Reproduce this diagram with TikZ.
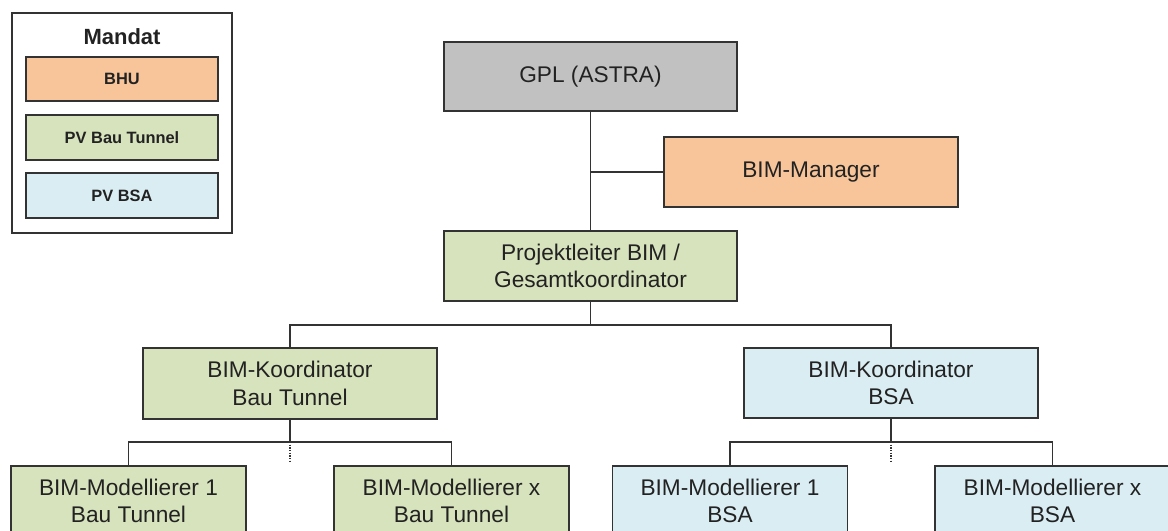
\documentclass[tikz,border=0pt]{standalone}
\usepackage{fontspec}
\setmainfont{Liberation Sans}
\newcommand\pxu{0.75pt}
\definecolor{boxgray}{HTML}{C1C1C1}
\definecolor{boxorange}{HTML}{F8C59A}
\definecolor{boxgreen}{HTML}{D7E3BD}
\definecolor{boxblue}{HTML}{DAEDF3}
\definecolor{edgecol}{HTML}{333333}
\definecolor{textcol}{HTML}{222222}
\tikzset{
  orgbox/.style={draw=edgecol, line width=1.3pt, inner sep=0pt, align=center,
    text=textcol, font=\fontsize{17}{20.5}\selectfont},
  legbox/.style={draw=edgecol, line width=1.1pt, inner sep=0pt, align=center,
    text=textcol, font=\fontsize{12.3}{14}\selectfont\bfseries,
    minimum width=192*\pxu},
  link/.style={draw=edgecol, line width=1pt},
  dotlink/.style={draw=edgecol, line width=1pt, dash pattern=on 1pt off 1pt}
}
\begin{document}
\begin{tikzpicture}[x=0.75pt,y=-0.75pt]
\useasboundingbox (0,0) rectangle (1168,531);
\clip (0,0) rectangle (1168,531);
% legend
\node[draw=edgecol, line width=1.1pt, minimum width=220*\pxu, minimum height=220*\pxu, inner sep=0pt] (legend) at (122,123) {};
\node[text=textcol, font=\fontsize{16.5}{20}\selectfont\bfseries] (mandat) at (122,37) {Mandat};
\node[legbox, fill=boxorange, minimum height=44*\pxu] (lbhu) at (122,79) {BHU};
\node[legbox, fill=boxgreen, minimum height=45*\pxu] (lbau) at (122,137.5) {PV Bau Tunnel};
\node[legbox, fill=boxblue, minimum height=45*\pxu] (lbsa) at (122,195.5) {PV BSA};
% org boxes
\node[orgbox, fill=boxgray, minimum width=293*\pxu, minimum height=69*\pxu] (gpl) at (590.5,76.5) {GPL (ASTRA)};
\node[orgbox, fill=boxorange, minimum width=294*\pxu, minimum height=70*\pxu] (bm) at (811,172) {BIM-Manager};
\node[orgbox, fill=boxgreen, minimum width=293*\pxu, minimum height=70*\pxu] (pl) at (590.5,266) {Projektleiter BIM /\\Gesamtkoordinator};
\node[orgbox, fill=boxgreen, minimum width=294*\pxu, minimum height=71*\pxu] (kbt) at (290,383.5) {BIM-Koordinator\\Bau Tunnel};
\node[orgbox, fill=boxblue, minimum width=294*\pxu, minimum height=70*\pxu] (kbsa) at (891,383) {BIM-Koordinator\\BSA};
\node[orgbox, fill=boxgreen, minimum width=235*\pxu, minimum height=70*\pxu] (m1bt) at (128.5,501) {BIM-Modellierer 1\\Bau Tunnel};
\node[orgbox, fill=boxgreen, minimum width=235*\pxu, minimum height=70*\pxu] (mxbt) at (451.5,501) {BIM-Modellierer x\\Bau Tunnel};
\node[orgbox, fill=boxblue, minimum width=235*\pxu, minimum height=70*\pxu] (m1bsa) at (730,501) {BIM-Modellierer 1\\BSA};
\node[orgbox, fill=boxblue, minimum width=235*\pxu, minimum height=70*\pxu] (mxbsa) at (1052.5,501) {BIM-Modellierer x\\BSA};
% connectors
\coordinate (jtop) at (590.5,325);
\coordinate (jbt) at (290,442);
\coordinate (jbsa) at (891,442);
\draw[link] (gpl.south) -- (pl.north);
\draw[link] (bm.west) -- (gpl.south |- bm.west);
\draw[link] (pl.south) -- (jtop);
\draw[link] (kbt.north) |- (jtop) -| (kbsa.north);
\draw[link] (kbt.south) -- (jbt);
\draw[link] (m1bt.north) |- (jbt) -| (mxbt.north);
\draw[dotlink] (jbt) -- ++(0,21);
\draw[link] (kbsa.south) -- (jbsa);
\draw[link] (m1bsa.north) |- (jbsa) -| (mxbsa.north);
\draw[dotlink] (jbsa) -- ++(0,21);
\end{tikzpicture}
\end{document}
